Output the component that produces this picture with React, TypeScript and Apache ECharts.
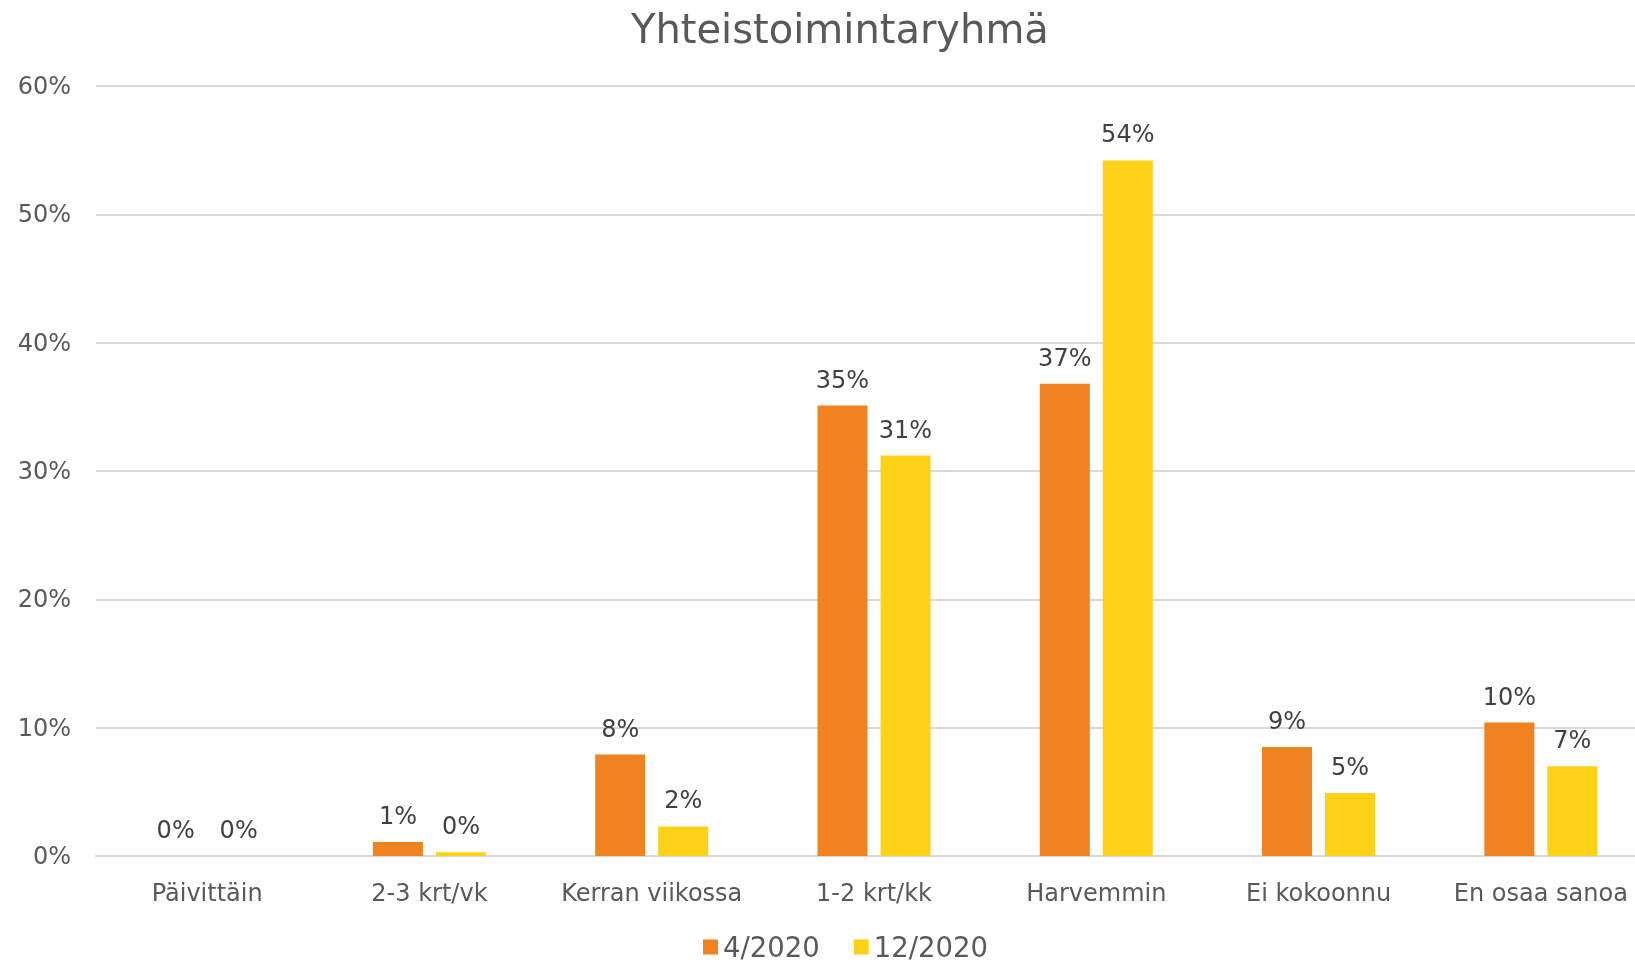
import React, { useEffect, useRef } from "react";
import * as echarts from "echarts";

const categories = ["Päivittäin", "2-3 krt/vk", "Kerran viikossa", "1-2 krt/kk", "Harvemmin", "Ei kokoonnu", "En osaa sanoa"];
const seriesNames = ["4/2020", "12/2020"];
const april2020 = [0, 1.1, 7.9, 35.1, 36.8, 8.5, 10.4];
const december2020 = [0, 0.3, 2.3, 31.2, 54.2, 4.9, 7.0];
const yTicks = [0, 10, 20, 30, 40, 50, 60];

const FONT = "'DejaVu Sans', sans-serif";

export default function App() {
  const ref = useRef<HTMLDivElement>(null);
  useEffect(() => {
    if (!ref.current) return;
    const chart = echarts.init(ref.current, null, { renderer: "svg" });
    const labelCfg = {
      show: true,
      position: "top",
      distance: 14,
      color: "#404040",
      fontSize: 24,
      fontFamily: FONT,
      formatter: (p: any) => Math.round(p.value) + "%",
    };
    chart.setOption({
      animation: false,
      textStyle: { fontFamily: FONT },
      title: {
        text: "Yhteistoimintaryhmä",
        left: 626,
        top: 4,
        textStyle: { fontSize: 40, fontWeight: "normal", color: "#595959", fontFamily: FONT },
      },
      legend: {
        data: seriesNames,
        left: 703,
        top: 933,
        padding: 0,
        itemWidth: 15,
        itemHeight: 15,
        itemGap: 34,
        icon: "rect",
        textStyle: { fontSize: 27.5, color: "#595959", fontFamily: FONT },
      },
      grid: { left: 96, top: 86, width: 1556, height: 770, containLabel: false },
      xAxis: {
        type: "category",
        data: categories,
        axisTick: { show: false },
        axisLine: { lineStyle: { color: "#D9D9D9", width: 2 } },
        axisLabel: { color: "#595959", fontSize: 24, fontFamily: FONT, margin: 25, interval: 0 },
      },
      yAxis: {
        type: "value",
        min: yTicks[0],
        max: yTicks[yTicks.length - 1],
        interval: 10,
        axisLine: { show: false },
        axisTick: { show: false },
        splitLine: { lineStyle: { color: "#D9D9D9", width: 2 } },
        axisLabel: { color: "#595959", fontSize: 24, fontFamily: FONT, margin: 25, formatter: (v: number) => v + "%" },
      },
      series: [
        {
          name: seriesNames[0],
          type: "bar",
          data: april2020,
          barWidth: 50,
          barGap: "26%",
          itemStyle: { color: "#F0821F" },
          label: labelCfg,
        },
        {
          name: seriesNames[1],
          type: "bar",
          data: december2020,
          barWidth: 50,
          barGap: "26%",
          itemStyle: { color: "#FCD116" },
          label: labelCfg,
        },
      ],
    });
    return () => chart.dispose();
  }, []);
  return (
    <div style={{ position: "fixed", left: 0, top: 0, width: 1635, height: 963, overflow: "hidden" }}>
      <div ref={ref} style={{ width: 1670, height: 963 }} />
    </div>
  );
}
